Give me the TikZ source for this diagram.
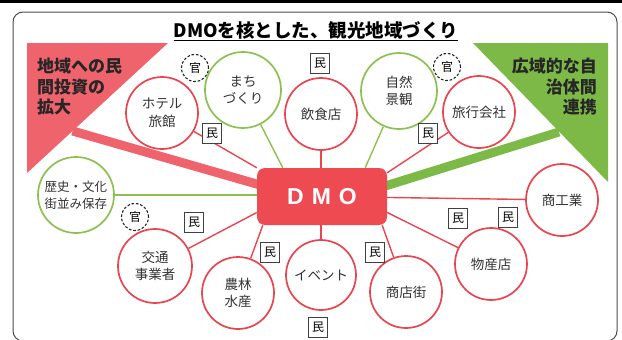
\documentclass[tikz,border=0pt]{standalone}
\usepackage{fontspec}
\newfontfamily\jp{Noto Sans CJK JP}
\newfontfamily\lsans{Liberation Sans}
\usetikzlibrary{calc,backgrounds}
\definecolor{cred}{HTML}{E8454F}
\definecolor{tred}{HTML}{EF636C}
\definecolor{cgreen}{HTML}{8CC152}
\definecolor{tgreen}{HTML}{7DB946}
\definecolor{dmored}{HTML}{EE4A52}
\begin{document}
\begin{tikzpicture}[x=1pt,y=-1pt,
  bub/.style={circle, minimum size=#1, inner sep=0pt, line width=1.7pt, fill=white, align=center, text=black!80, font=\jp\fontsize{13.5}{17.5}\selectfont},
  rbub/.style={bub=72pt, draw=cred},
  gbub/.style={bub=76pt, draw=cgreen},
  kan/.style={circle, draw=black!85, dash pattern=on 2.6pt off 1.8pt, line width=1.1pt, minimum size=27pt, inner sep=0pt, fill=white, font=\jp\fontsize{12}{12}\selectfont},
  minbox/.style={rectangle, draw=black!75, line width=1pt, minimum width=19pt, minimum height=20pt, inner sep=0pt, fill=white, font=\jp\fontsize{12}{12}\selectfont},
  rl/.style={draw=cred, line width=1.4pt},
  gl/.style={draw=cgreen, line width=1.4pt},
  tritext/.style={inner sep=0pt, text=black!85, font=\jp\bfseries\fontsize{17}{20.5}\selectfont}
]
\useasboundingbox (0,0) rectangle (622,340);
\fill[black] (0,0) rectangle (622,3);
\draw[black!70, line width=1pt, rounded corners=10pt] (13,12) rectangle (617,341);

\node (title) at (316,31) {\jp\bfseries\fontsize{18.5}{20}\selectfont\underline{DMOを核とした、観光地域づくり}};

% DMO
\node[rectangle, rounded corners=8pt, fill=dmored, minimum width=130pt, minimum height=57pt, inner sep=0pt,
      text=white, font=\lsans\bfseries\fontsize{23}{23}\selectfont] (dmo) at (322,196.5) {D\hspace{8pt}M\hspace{8pt}O};

% circles
\node[rbub] (hotel) at (162,113) {ホテル\\旅館};
\node[gbub] (machi) at (243,90) {まち\\づくり};
\node[rbub] (inshoku) at (321,114) {飲食店};
\node[gbub] (shizen) at (399,91) {自然\\景観};
\node[rbub] (ryokou) at (479,112) {旅行会社};
\node[gbub, font=\jp\fontsize{12.5}{17}\selectfont] (rekishi) at (76,195) {歴史・文化\\街並み保存};
\node[rbub] (shoko) at (562,200) {商工業};
\node[rbub, minimum size=74pt] (kotsu) at (155,266) {交通\\事業者};
\node[rbub] (norin) at (238,293) {農林\\水産};
\node[rbub, minimum size=70pt] (event) at (321,275) {イベント};
\node[rbub] (shotengai) at (406,292) {商店街};
\node[rbub] (bussan) at (491,264) {物産店};

% labels
\node[kan] (k1) at (195,68) {官};
\node[kan] (k2) at (447,67) {官};
\node[kan] (k3) at (135,217) {官};
\node[minbox] (m1) at (320,63) {民};
\node[minbox] (m2) at (212,133) {民};
\node[minbox] (m3) at (428,133) {民};
\node[minbox] (m4) at (194,222) {民};
\node[minbox] (m5) at (270,252) {民};
\node[minbox] (m6) at (375,252) {民};
\node[minbox] (m7) at (318,327) {民};
\node[minbox] (m8) at (458,218) {民};
\node[minbox] (m9) at (508,217) {民};

% triangle texts
\node[tritext, anchor=north west, align=left] (lt) at (37,58) {地域への民\\間投資の\\拡大};
\node[tritext, anchor=north east, align=right] (rt) at (597,58) {広域的な自\\治体間\\連携};

\begin{scope}[on background layer]
  \fill[tred] (27,43) -- (168,43) -- (27,173) -- cycle;
  \fill[tgreen] (473,43) -- (608,43) -- (608,182) -- cycle;
  \coordinate (rb) at (72.6,131);
  \coordinate (gb) at (559,132);
  \draw[tred, line width=9pt] (rb) -- ($(dmo.center)+(-22,0)$);
  \draw[tgreen, line width=9pt] (gb) -- ($(dmo.center)+(23,2)$);
  % connectors
  \draw[rl] (hotel) -- (dmo.north west);
  \draw[gl] (machi) -- ($(dmo.north west)+(26,0)$);
  \draw[rl] (inshoku) -- (inshoku |- dmo.north);
  \draw[gl] (shizen) -- ($(dmo.north east)+(-22,0)$);
  \draw[rl] (ryokou) -- ($(dmo.north east)+(0,5)$);
  \draw[gl] (rekishi) -- (rekishi -| dmo.west);
  \draw[rl] (shoko) -- (dmo);
  \draw[rl] (bussan) -- ($(dmo.east)+(0,16)$);
  \draw[rl] (shotengai) -- ($(dmo.south east)+(-5,0)$);
  \draw[rl] (event) -- (event |- dmo.south);
  \draw[rl] (norin) -- ($(dmo.south west)+(6,0)$);
  \draw[rl] (kotsu) -- ($(dmo.west)+(0,16)$);
\end{scope}
\end{tikzpicture}
\end{document}
